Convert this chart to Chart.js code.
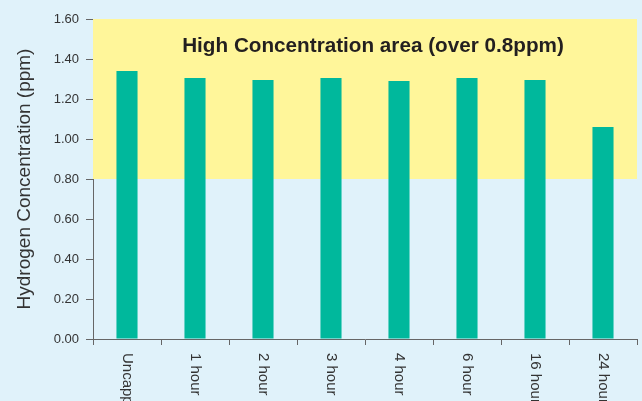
<!DOCTYPE html>
<html>
<head>
<meta charset="utf-8">
<script src="https://cdn.jsdelivr.net/npm/chart.js@4/dist/chart.umd.min.js"></script>
<style>
html,body{margin:0;padding:0;background:#e0f2fa;}
#wrap{width:642px;height:401px;position:relative;}
</style>
</head>
<body>
<div id="wrap"><canvas id="c" width="642" height="401"></canvas></div>
<script>
const categories = ["Uncapped", "1 hour", "2 hour", "3 hour", "4 hour", "6 hour", "16 hour", "24 hour"];
const concentration = [1.34, 1.305, 1.295, 1.305, 1.29, 1.305, 1.295, 1.06];
const highZone = [0.8, 1.6];
const zoneLabel = "High Concentration area (over 0.8ppm)";
const zoneLabelValue = 1.465;
const yTitle = "Hydrogen Concentration (ppm)";

const zonePlugin = {
  id: 'zone',
  beforeDatasetsDraw(chart) {
    const {ctx, chartArea, scales} = chart;
    const y1 = scales.y.getPixelForValue(highZone[1]);
    const y0 = scales.y.getPixelForValue(highZone[0]);
    ctx.save();
    ctx.fillStyle = '#fff69a';
    ctx.fillRect(chartArea.left, y1, chartArea.right - chartArea.left, y0 - y1);
    ctx.font = 'bold 20.7px "Liberation Sans", Arial, sans-serif';
    ctx.fillStyle = '#231f20';
    ctx.textAlign = 'center';
    ctx.textBaseline = 'middle';
    ctx.fillText(zoneLabel, (chartArea.left + chartArea.right) / 2 + 8, scales.y.getPixelForValue(zoneLabelValue));
    ctx.restore();
  },
  afterDraw(chart) {
    const {ctx, scales} = chart;
    const xs = scales.x;
    ctx.save();
    ctx.font = '15px "Liberation Sans", Arial, sans-serif';
    ctx.fillStyle = '#333333';
    ctx.textAlign = 'left';
    ctx.textBaseline = 'middle';
    categories.forEach((lab, i) => {
      const x = xs.getPixelForTick(i);
      ctx.save();
      ctx.translate(x, xs.top + 14);
      ctx.rotate(Math.PI / 2);
      ctx.fillText(lab, 0, 0);
      ctx.restore();
    });
    ctx.restore();
  }
};

new Chart(document.getElementById('c'), {
  type: 'bar',
  data: {
    labels: categories,
    datasets: [{
      data: concentration,
      backgroundColor: '#00b89c',
      borderWidth: 0,
      categoryPercentage: 1,
      barPercentage: 0.31
    }]
  },
  options: {
    responsive: false,
    animation: false,
    layout: {padding: {top: 19, right: 5, left: 0, bottom: 0}},
    plugins: {legend: {display: false}, tooltip: {enabled: false}},
    scales: {
      x: {
        offset: true,
        grid: {offset: true, drawOnChartArea: false, tickLength: 6, color: '#666666', lineWidth: 1},
        border: {display: true, color: '#666666', width: 1},
        ticks: {display: false},
        afterFit(s) { s.height = 62; }
      },
      y: {
        min: 0, max: 1.6,
        grid: {drawOnChartArea: false, tickLength: 7, color: '#666666'},
        border: {display: true, color: '#666666', width: 1},
        ticks: {
          stepSize: 0.2,
          padding: 7,
          color: '#333333',
          font: {family: '"Liberation Sans", Arial, sans-serif', size: 13},
          callback: v => v.toFixed(2)
        },
        title: {
          display: true,
          text: yTitle,
          color: '#333333',
          font: {family: '"Liberation Sans", Arial, sans-serif', size: 19},
          padding: {top: 13, bottom: 0}
        },
        afterFit(s) { s.width = 93; }
      }
    }
  },
  plugins: [zonePlugin]
});
</script>
</body>
</html>
